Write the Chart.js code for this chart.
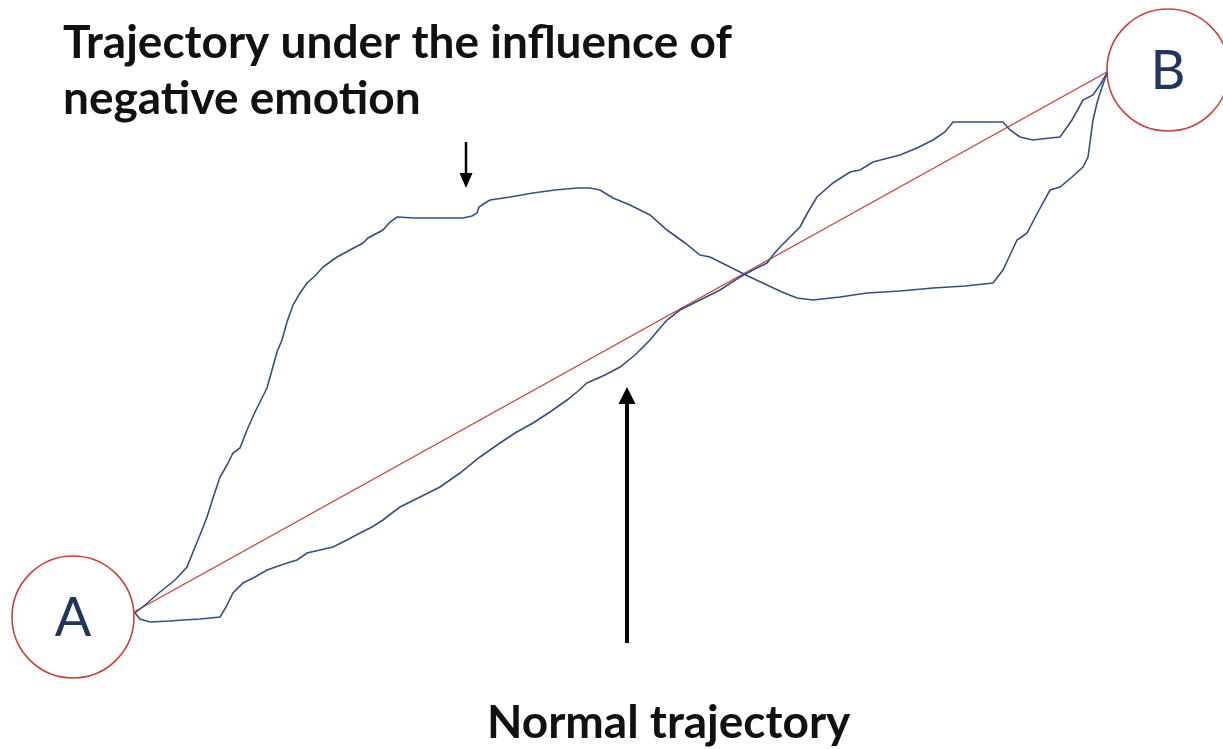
<!DOCTYPE html>
<html>
<head>
<meta charset="utf-8">
<title>Trajectories</title>
<script src="https://cdn.jsdelivr.net/npm/chart.js@4/dist/chart.umd.min.js"></script>
<style>
  html, body { margin: 0; padding: 0; background: #fff; }
  #wrap { width: 1223px; height: 749px; }
</style>
</head>
<body>
<div id="wrap"><canvas id="chart" width="1223" height="749"></canvas></div>
<script>
// endpoints
const pointNames = ["A", "B"];
const pointX = [73, 1168];
const pointY = [617, 70];

// straight reference line A -> B
const directX = [134, 1107];
const directY = [612, 72];

// trajectory under negative emotion
const emotionX = [135, 145, 160, 175, 187, 193, 200, 207, 213, 220, 227, 233, 240, 247, 255, 262, 267, 272, 277, 282, 287, 293, 300, 307, 315, 323, 330, 337, 350, 363, 368, 383, 390, 397, 415, 433, 450, 463, 472, 477, 479, 485, 490, 510, 533, 555, 577, 590, 600, 613, 630, 650, 667, 685, 700, 710, 730, 750, 767, 782, 797, 813, 840, 867, 900, 933, 965, 993, 1003, 1010, 1017, 1023, 1027, 1038, 1050, 1060, 1072, 1083, 1088, 1091, 1093, 1097, 1100, 1107];
const emotionY = [613, 605, 592, 580, 567, 552, 535, 517, 498, 477, 465, 453, 448, 430, 412, 398, 388, 370, 352, 340, 322, 305, 293, 283, 276, 267, 262, 257, 250, 243, 238, 230, 222, 217, 218, 218, 218, 218, 216, 213, 207, 203, 200, 197, 193, 190, 188, 188, 190, 198, 205, 215, 230, 243, 255, 257, 267, 277, 285, 292, 298, 300, 297, 293, 291, 288, 286, 283, 270, 255, 240, 236, 233, 212, 190, 187, 177, 167, 157, 135, 120, 103, 93, 73];

// normal trajectory
const normalX = [135, 140, 150, 170, 183, 200, 220, 226, 233, 243, 255, 267, 287, 297, 307, 320, 333, 347, 360, 372, 383, 392, 400, 420, 440, 460, 480, 500, 515, 533, 550, 567, 577, 587, 605, 620, 635, 650, 660, 667, 680, 700, 720, 740, 753, 767, 773, 780, 790, 800, 808, 817, 833, 850, 860, 873, 900, 917, 933, 945, 953, 980, 1003, 1010, 1020, 1033, 1050, 1060, 1072, 1083, 1093, 1100, 1107];
const normalY = [613, 619, 622, 621, 620, 619, 617, 607, 593, 583, 577, 570, 563, 560, 553, 550, 547, 540, 533, 527, 520, 513, 507, 497, 487, 473, 457, 443, 433, 423, 412, 400, 392, 383, 375, 367, 355, 340, 328, 320, 310, 300, 290, 277, 270, 263, 255, 247, 237, 227, 212, 197, 183, 172, 170, 162, 155, 148, 140, 132, 122, 122, 122, 130, 137, 140, 138, 137, 120, 100, 95, 85, 73];

// labels and arrows
const topLabel = ["Trajectory under the influence of", "negative emotion"];
const bottomLabel = "Normal trajectory";

function toPoints(xs, ys) {
  return xs.map((x, i) => ({ x: x, y: ys[i] }));
}

const blue = "#34507e";
const red = "#c9403a";

// text, arrows and A/B letters
const overlay = {
  id: "overlay",
  afterDatasetsDraw(chart) {
    const ctx = chart.ctx;
    const sx = chart.scales.x, sy = chart.scales.y;
    const px = v => sx.getPixelForValue(v);
    const py = v => sy.getPixelForValue(v);

    ctx.save();
    // A and B
    ctx.fillStyle = "#1f3560";
    ctx.font = "54px Lato";
    ctx.textAlign = "center";
    ctx.textBaseline = "middle";
    pointNames.forEach((n, i) => ctx.fillText(n, px(pointX[i]), py(pointY[i]) + 2));

    // labels
    ctx.fillStyle = "#111";
    ctx.font = "bold 46px Lato";
    ctx.textAlign = "left";
    ctx.textBaseline = "alphabetic";
    ctx.fillText(topLabel[0], px(63), py(58));
    ctx.fillText(topLabel[1], px(63), py(114));
    ctx.fillText(bottomLabel, px(487), py(738));

    // arrows
    drawArrow(ctx, px(466), py(142), px(466), py(188), 13, 15, 2.5);
    drawArrow(ctx, px(627), py(643), px(627), py(387), 17, 17, 4);
    ctx.restore();
  }
};

function drawArrow(ctx, x1, y1, x2, y2, headW, headH, lw) {
  const dir = y2 > y1 ? 1 : -1;
  ctx.strokeStyle = "#000";
  ctx.fillStyle = "#000";
  ctx.lineWidth = lw;
  ctx.beginPath();
  ctx.moveTo(x1, y1);
  ctx.lineTo(x2, y2 - dir * headH * 0.8);
  ctx.stroke();
  ctx.beginPath();
  ctx.moveTo(x2, y2);
  ctx.lineTo(x2 - headW / 2, y2 - dir * headH);
  ctx.lineTo(x2 + headW / 2, y2 - dir * headH);
  ctx.closePath();
  ctx.fill();
}

new Chart(document.getElementById("chart"), {
  type: "scatter",
  data: {
    datasets: [
      {
        label: "Negative emotion",
        data: toPoints(emotionX, emotionY),
        showLine: true,
        borderColor: blue,
        borderWidth: 1.6,
        pointRadius: 0,
        tension: 0
      },
      {
        label: "Normal",
        data: toPoints(normalX, normalY),
        showLine: true,
        borderColor: blue,
        borderWidth: 1.6,
        pointRadius: 0,
        tension: 0
      },
      {
        label: "Direct",
        data: toPoints(directX, directY),
        showLine: true,
        borderColor: red,
        borderWidth: 1.4,
        pointRadius: 0
      },
      {
        label: "Endpoints",
        data: toPoints(pointX, pointY),
        showLine: false,
        clip: false,
        pointRadius: 61,
        pointHoverRadius: 61,
        pointStyle: "circle",
        backgroundColor: "rgba(255,255,255,0)",
        borderColor: red,
        borderWidth: 1.6
      }
    ]
  },
  options: {
    responsive: false,
    animation: false,
    layout: { padding: 0, autoPadding: false },
    plugins: {
      legend: { display: false },
      tooltip: { enabled: false }
    },
    scales: {
      x: { type: "linear", min: 0, max: 1223, display: false },
      y: { type: "linear", min: 0, max: 749, reverse: true, display: false }
    }
  },
  plugins: [overlay]
});
</script>
</body>
</html>
